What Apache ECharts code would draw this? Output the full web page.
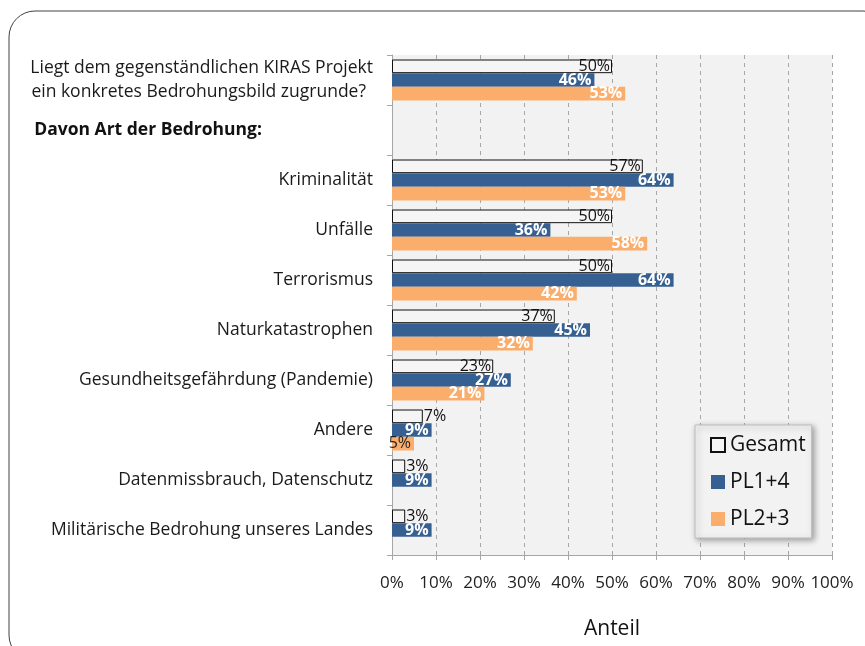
<!DOCTYPE html>
<html>
<head>
<meta charset="utf-8">
<script src="https://cdn.jsdelivr.net/npm/echarts@6/dist/echarts.min.js"></script>
<style>
  html, body { margin: 0; padding: 0; background: #fff; }
  #chart { width: 865px; height: 646px; }
</style>
</head>
<body>
<div id="chart"></div>
<script>
// Kategorien (von oben nach unten)
const categories = [
  "Liegt dem gegenständlichen KIRAS Projekt\nein konkretes Bedrohungsbild zugrunde?",
  "Davon Art der Bedrohung:",
  "Kriminalität",
  "Unfälle",
  "Terrorismus",
  "Naturkatastrophen",
  "Gesundheitsgefährdung (Pandemie)",
  "Andere",
  "Datenmissbrauch, Datenschutz",
  "Militärische Bedrohung unseres Landes"
];
const seriesNames = ["Gesamt", "PL1+4", "PL2+3"];
// Anteile in %
const gesamt = [50, null, 57, 50, 50, 37, 23, 7, 3, 3];
const pl14 = [46, null, 64, 36, 64, 45, 27, 9, 9, 9];
const pl23 = [53, null, 53, 58, 42, 32, 21, 5, null, null];
const xTicks = [0, 100, 10]; // min, max, interval

const chart = echarts.init(document.getElementById("chart"));
const fontFamily = "'Open Sans', 'Noto Sans', sans-serif";
const catFont = 17.5;

// kleine Balken: Beschriftung außerhalb bzw. dunkel
const gesamtData = gesamt.map(v => v == null ? null : {
  value: v,
  label: v < 10 ? { position: "right", distance: 1 } : {}
});
const pl23Data = pl23.map(v => v == null ? null : {
  value: v,
  label: v < 10 ? { color: "#222", fontWeight: "normal" } : {}
});

const option = {
  animation: false,
  textStyle: { fontFamily },
  graphic: [{
    type: "rect",
    shape: { x: 9, y: 11, width: 880, height: 650, r: 26 },
    style: { fill: "none", stroke: "#404040", lineWidth: 1 },
    z: -10
  }],
  grid: {
    left: 392, right: 33, top: 55, bottom: 91,
    show: true, backgroundColor: "#f2f2f2", borderWidth: 0
  },
  legend: {
    orient: "vertical",
    left: 695, top: 425,
    padding: [8, 6, 7, 15],
    itemWidth: 14, itemHeight: 14, itemGap: 13,
    icon: "rect",
    backgroundColor: "#f2f2f2",
    borderColor: "#bdbdbd", borderWidth: 1,
    shadowColor: "rgba(0,0,0,0.35)", shadowBlur: 6,
    shadowOffsetX: 2, shadowOffsetY: 2,
    textStyle: { fontSize: 21, color: "#111", lineHeight: 24, fontFamily },
    data: seriesNames
  },
  xAxis: {
    type: "value",
    min: xTicks[0], max: xTicks[1], interval: xTicks[2],
    name: "Anteil",
    nameLocation: "middle",
    nameGap: 64,
    nameTextStyle: { fontSize: 21, color: "#111" },
    axisLine: { show: true, lineStyle: { color: "#a6a6a6" } },
    axisTick: { show: true, length: 5, lineStyle: { color: "#a6a6a6" } },
    axisLabel: { formatter: "{value}%", fontSize: 17, color: "#222", margin: 20 },
    splitLine: { show: true, lineStyle: { color: "#a6a6a6", type: [4, 4] } }
  },
  yAxis: {
    type: "category",
    inverse: true,
    data: categories,
    axisLine: { show: true, lineStyle: { color: "#a6a6a6" } },
    axisTick: { show: true, length: 5, lineStyle: { color: "#a6a6a6" } },
    axisLabel: {
      fontSize: catFont, color: "#1a1a1a", margin: 19, lineHeight: 24,
      formatter: function (val, idx) {
        if (idx === 0) {
          const parts = val.split("\n");
          return "{a|" + parts[0] + "}\n{b|" + parts[1] + "}";
        }
        if (idx === 1) return "{h|" + val + "}";
        return val;
      },
      rich: {
        a: { fontSize: catFont, color: "#1a1a1a", lineHeight: 24 },
        b: { fontSize: catFont, color: "#1a1a1a", lineHeight: 24, padding: [0, 7, 0, 0] },
        h: { fontSize: catFont, color: "#111", fontWeight: "bold", padding: [0, 111, 0, 0] }
      }
    }
  },
  series: [
    {
      name: seriesNames[0], type: "bar", data: gesamtData,
      barGap: "0%", barCategoryGap: "18%",
      itemStyle: { color: "#f5f5f5", borderColor: "#111", borderWidth: 1 },
      label: {
        show: true, position: "insideRight", distance: 2,
        formatter: "{c}%", fontSize: 16, color: "#111"
      }
    },
    {
      name: seriesNames[1], type: "bar", data: pl14,
      barGap: "0%", barCategoryGap: "18%",
      itemStyle: { color: "#376092" },
      label: {
        show: true, position: "insideRight", distance: 3,
        formatter: "{c}%", fontSize: 16, fontWeight: "bold", color: "#fff"
      }
    },
    {
      name: seriesNames[2], type: "bar", data: pl23Data,
      barGap: "0%", barCategoryGap: "18%",
      itemStyle: { color: "#fbad6c" },
      label: {
        show: true, position: "insideRight", distance: 3,
        formatter: "{c}%", fontSize: 16, fontWeight: "bold", color: "#fff"
      }
    }
  ]
};

chart.setOption(option);
</script>
</body>
</html>
